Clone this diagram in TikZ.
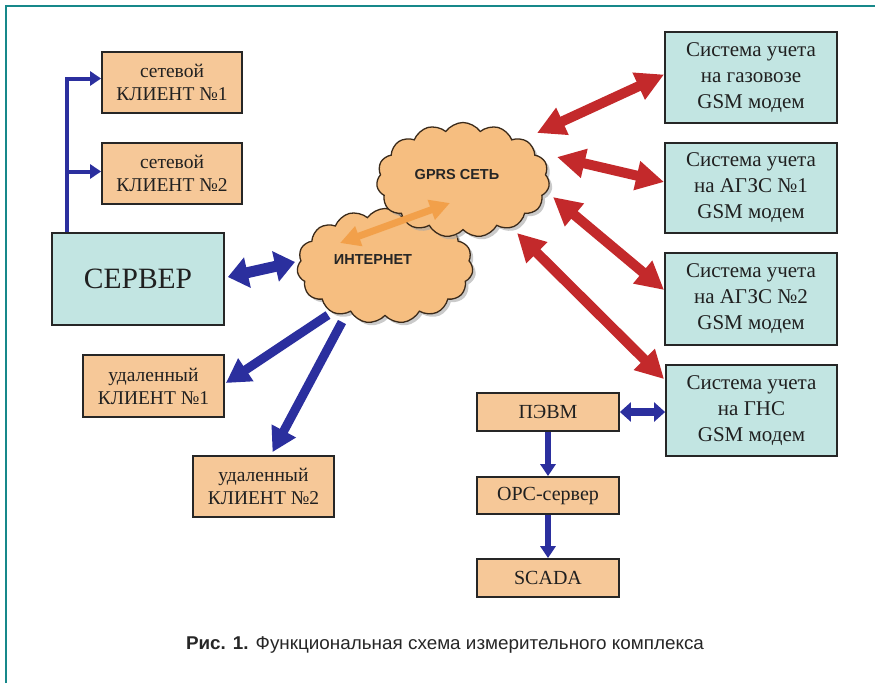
\documentclass[tikz,border=0pt]{standalone}
\usepackage{fontspec}
\setmainfont{Liberation Serif}
\newfontfamily\sansb{Liberation Sans}
\newfontfamily\capfont[FakeStretch=1.02]{Liberation Sans}
\usetikzlibrary{arrows.meta,shapes.symbols,shadows,calc}
\pgfdeclarelayer{bg}
\pgfsetlayers{bg,main}
\definecolor{frameteal}{HTML}{17888A}
\definecolor{boxorange}{HTML}{F6C898}
\definecolor{boxteal}{HTML}{C2E5E2}
\definecolor{boxline}{HTML}{262626}
\definecolor{textdark}{HTML}{202020}
\definecolor{arrblue}{HTML}{2B2F9E}
\definecolor{arrred}{HTML}{C3292B}
\definecolor{arrorange}{HTML}{F2A04A}
\definecolor{cloudfill}{HTML}{F6BE80}
\definecolor{cloudline}{HTML}{3A2A1A}
\tikzset{
  obox/.style={draw=boxline, line width=1.8pt, fill=boxorange, align=center, inner sep=0pt, text=textdark},
  tbox/.style={draw=boxline, line width=1.8pt, fill=boxteal, align=center, inner sep=0pt, text=textdark},
  smallfont/.style={font=\fontsize{19.5}{23}\selectfont},
  chainfont/.style={font=\fontsize{20}{23}\selectfont},
  sysfont/.style={font=\fontsize{21}{26}\selectfont},
  cloudnode/.style={cloud, cloud puffs=15, cloud puff arc=110, cloud ignores aspect, draw=cloudline, line width=1.3pt, fill=cloudfill, drop shadow={shadow xshift=3pt, shadow yshift=-3pt, fill=black!35, opacity=0.6}},
  cloudtext/.style={font=\sansb\bfseries\fontsize{14.5}{16}\selectfont, text=black!85},
  bthin/.style={draw=arrblue, line width=4pt, line join=miter, -{Triangle[length=11pt,width=14pt]}},
  bmid/.style={draw=arrblue, line width=5.5pt, -{Triangle[length=12pt,width=15pt]}},
  bdouble/.style={draw=arrblue, line width=8pt, {Triangle[length=11pt,width=19pt]}-{Triangle[length=11pt,width=19pt]}},
  bthick/.style={draw=arrblue, line width=11pt, {Triangle[length=20pt,width=30pt]}-{Triangle[length=20pt,width=30pt]}},
  bone/.style={draw=arrblue, line width=9pt, -{Triangle[length=24pt,width=26pt]}},
  rdouble/.style={draw=arrred, line width=10pt, {Triangle[length=28pt,width=28pt]}-{Triangle[length=28pt,width=28pt]}},
  odouble/.style={draw=arrorange, line width=7pt, {Triangle[length=20pt,width=20pt]}-{Triangle[length=20pt,width=20pt]}},
}
\begin{document}
\begin{tikzpicture}[x=1pt,y=-1pt]
\useasboundingbox (0,0) rectangle (875,683);
% frame
\draw[frameteal, line width=2.5pt] (6,683) -- (6,6) -- (875,6);

% left boxes
\node[obox, smallfont, minimum width=140pt, minimum height=61pt] (sc1) at (172,82.5) {сетевой\\КЛИЕНТ №1};
\node[obox, smallfont, minimum width=140pt, minimum height=61pt] (sc2) at (172,173.5) {сетевой\\КЛИЕНТ №2};
\node[tbox, font=\fontsize{29.5}{34}\selectfont, minimum width=172pt, minimum height=92pt] (server) at (138,279) {СЕРВЕР};
\node[obox, smallfont, minimum width=141pt, minimum height=62pt] (uc1) at (153.5,386) {удаленный\\КЛИЕНТ №1};
\node[obox, smallfont, minimum width=141pt, minimum height=61pt] (uc2) at (263.5,486.5) {удаленный\\КЛИЕНТ №2};

% right boxes
\node[tbox, sysfont, minimum width=172pt, minimum height=91pt] (r1) at (751,77.5) {Система учета\\на газовозе\\GSM модем};
\node[tbox, sysfont, minimum width=172pt, minimum height=90pt] (r2) at (751,188) {Система учета\\на АГЗС №1\\GSM модем};
\node[tbox, sysfont, minimum width=172pt, minimum height=92pt] (r3) at (751,299) {Система учета\\на АГЗС №2\\GSM модем};
\node[tbox, sysfont, minimum width=171pt, minimum height=91pt] (r4) at (751.5,410.5) {Система учета\\на ГНС\\GSM модем};

% bottom chain
\node[obox, chainfont, minimum width=142pt, minimum height=38pt] (pevm) at (548,412) {ПЭВМ};
\node[obox, chainfont, minimum width=142pt, minimum height=37pt] (opc) at (548,495.5) {OPC-сервер};
\node[obox, chainfont, minimum width=142pt, minimum height=38pt] (scada) at (548,578) {SCADA};

% clouds
\node[cloudnode, minimum width=176pt, minimum height=115pt] (inet) at (385,266) {};
\node[cloudnode, minimum width=173pt, minimum height=115pt] (gprs) at (463,180) {};
\node[cloudtext] (inettxt) at (373,260) {ИНТЕРНЕТ};
\node[cloudtext] (gprstxt) at (457,175) {GPRS СЕТЬ};

% server branches
\draw[bthin] ($(server.north west)+(16,0)$) |- ($(sc1.west)+(0,-4)$);
\draw[bthin] ($(server.north west)+(16,0)$) |- ($(sc2.west)+(0,-2)$);

% server <-> internet
\draw[bthick] ($(server.east)+(3,-2)$) -- ($(inet.center)+(-90,-4)$);

% internet -> remote clients (behind clouds)
\begin{pgfonlayer}{bg}
\draw[bone] ($(inet.center)+(-57,49)$) -- ($(uc1.east)+(1,-3)$);
\draw[bone] ($(inet.center)+(-43,56)$) -- ($(uc2.north)+(9,-3)$);
\end{pgfonlayer}

% red arrows gprs <-> systems
\draw[rdouble] ($(gprs.center)+(74,-47)$) -- ($(r1.west)+(0,-3)$);
\draw[rdouble] ($(gprs.center)+(94,-23)$) -- ($(r2.west)+(0,-6)$);
\draw[rdouble] ($(gprs.center)+(90,17)$) -- ($(r3.west)+(0,-9)$);
\draw[rdouble] ($(gprs.center)+(54,53)$) -- ($(r4.north west)+(-1,15)$);

% orange internet <-> gprs
\draw[odouble] ($(inet.center)+(-45,-23)$) -- ($(gprs.center)+(-13,23)$);

% pevm chain
\draw[bdouble] (pevm.east) -- (r4.west |- pevm.east);
\draw[bmid] (pevm.south) -- (opc.north);
\draw[bmid] (opc.south) -- (scada.north);

% caption
\node[anchor=base, font=\capfont\fontsize{18.5}{20}\selectfont, text=black!85] (cap) at (445,649) {\textbf{Рис. 1.} Функциональная схема измерительного комплекса};
\end{tikzpicture}
\end{document}
